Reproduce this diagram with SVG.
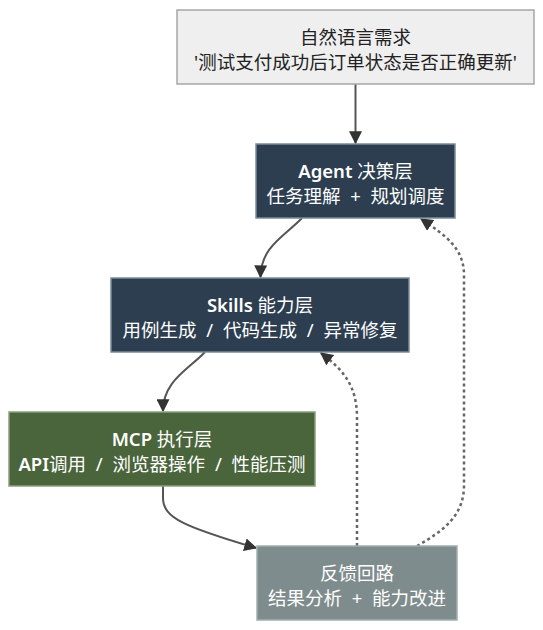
<svg xmlns="http://www.w3.org/2000/svg" width="543" height="630" viewBox="0 0 543 630">
  <style>
    .box { stroke-width: 1.5; }
    .light { fill: #efefef; stroke: #a6a6a6; }
    .dark { fill: #2c3e50; stroke: #7d8b99; }
    .green { fill: #4a653b; stroke: #8ba07d; }
    .grey { fill: #7f8c8d; stroke: #a3aeae; }
    text { font-family: "Noto Sans", "Noto Sans CJK SC", sans-serif; font-size: 18.5px; text-anchor: middle; }
    .ws { word-spacing: 5px; }
    .b { font-weight: 600; }
    .t-dark { fill: #222222; }
    .t-white { fill: #ffffff; }
    .solid { fill: none; stroke: #555555; stroke-width: 2; }
    .dashed { fill: none; stroke: #666666; stroke-width: 2.5; stroke-dasharray: 3 3; }
  </style>
  <defs>
    <marker id="arrow" viewBox="0 0 10 10" refX="9" refY="5" markerWidth="13" markerHeight="13" markerUnits="userSpaceOnUse" orient="auto">
      <path d="M0,0 L10,5 L0,10 z" fill="#333333"/>
    </marker>
  </defs>
  <rect width="543" height="630" fill="#ffffff"/>

  <g id="connectors">
    <path class="solid" d="M355.5,84 L355.5,143" marker-end="url(#arrow)"/>
    <path class="solid" d="M302,218 C285,236 261,246 260.5,277" marker-end="url(#arrow)"/>
    <path class="solid" d="M205,352 C188,370 163,381 163,411" marker-end="url(#arrow)"/>
    <path class="solid" d="M163,486 L163,498 C163,518 185,527 256,548" marker-end="url(#arrow)"/>
    <path class="dashed" d="M357,546 L357,418 C357,385 343,370 321,353" marker-end="url(#arrow)"/>
    <path class="dashed" d="M417,546 C445,530 464,515 464,485 L464,275 C464,248 445,235 421,219" marker-end="url(#arrow)"/>
  </g>

  <g id="node-request">
    <rect class="box light" x="177" y="10" width="357" height="74"/>
    <text class="t-dark" x="355.5" y="43.5">自然语言需求</text>
    <text class="t-dark" x="355.5" y="68.5">'测试支付成功后订单状态是否正确更新'</text>
  </g>

  <g id="node-agent">
    <rect class="box dark" x="256" y="144" width="199" height="74"/>
    <text class="t-white" x="355.5" y="177.5"><tspan class="b">Agent</tspan> 决策层</text>
    <text class="t-white ws" x="355.5" y="202.5">任务理解 + 规划调度</text>
  </g>

  <g id="node-skills">
    <rect class="box dark" x="111" y="278" width="298" height="74"/>
    <text class="t-white" x="260" y="311.5"><tspan class="b">Skills</tspan> 能力层</text>
    <text class="t-white ws" x="260" y="336.5">用例生成 / 代码生成 / 异常修复</text>
  </g>

  <g id="node-mcp">
    <rect class="box green" x="9" y="412" width="306" height="74"/>
    <text class="t-white" x="162" y="445.5"><tspan class="b">MCP</tspan> 执行层</text>
    <text class="t-white ws" x="162" y="470.5"><tspan class="b">API</tspan>调用 / 浏览器操作 / 性能压测</text>
  </g>

  <g id="node-feedback">
    <rect class="box grey" x="257" y="546" width="200" height="74"/>
    <text class="t-white" x="357" y="579.5">反馈回路</text>
    <text class="t-white ws" x="357" y="604.5">结果分析 + 能力改进</text>
  </g>
</svg>
